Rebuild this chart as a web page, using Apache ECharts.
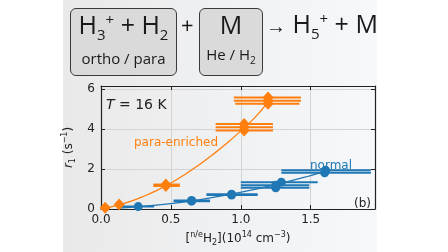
<!DOCTYPE html>
<html>
<head>
<meta charset="utf-8">
<script src="https://cdn.jsdelivr.net/npm/echarts@6.0.0/dist/echarts.min.js"></script>
<style>
  html, body { margin: 0; padding: 0; background: #fff; }
  #wrap { position: relative; width: 448px; height: 252px; overflow: hidden; }
  #chart { position: absolute; left: 0; top: 0; width: 448px; height: 252px; }
  .hdr { position: absolute; font-family: "Open Sans", sans-serif; color: #1a1a1a; white-space: nowrap; }
  .box { position: absolute; box-sizing: border-box; border: 1px solid #3a3a3a; border-radius: 6px;
         background: #dadada; text-align: center; font-family: "Open Sans", sans-serif; color: #1a1a1a; }
  .big { font-size: 25px; line-height: 30px; margin-top: 0px; }
  .small { font-size: 15px; line-height: 20px; margin-top: 5px; }
  .lo { font-size: 15px; position: relative; top: 6px; }
  .hi { font-size: 15px; position: relative; top: -9px; }
  .small .lo { font-size: 10px; top: 4px; }
</style>
</head>
<body>
<div id="wrap">
  <div id="chart"></div>
  <div class="box" style="left:70px;top:8px;width:107px;height:68px">
    <div class="big">H<span class="lo">3</span><span class="hi">+</span> + H<span class="lo">2</span></div>
    <div class="small">ortho / para</div>
  </div>
  <div class="hdr" style="left:181px;top:9px;font-size:22px;line-height:30px">+</div>
  <div class="box" style="left:199px;top:8px;width:64px;height:68px">
    <div class="big">M</div>
    <div class="small">He / H<span class="lo">2</span></div>
  </div>
  <div class="hdr" style="left:266px;top:8px;font-size:25px;line-height:30px"><span style="font-size:20px">→</span> H<span class="lo">5</span><span class="hi">+</span> + M</div>
</div>
<script>
// para-enriched measurements: [n(H2), r1, xerr low, xerr high]
const paraPoints = [
  [0.03, 0.06, 0.0, 0.06],
  [0.13, 0.22, 0.1, 0.16],
  [0.464, 1.15, 0.374, 0.564],
  [0.464, 1.22, 0.374, 0.564],
  [1.024, 3.92, 0.82, 1.23],
  [1.024, 4.08, 0.82, 1.23],
  [1.024, 4.24, 0.82, 1.23],
  [1.195, 5.26, 0.96, 1.42],
  [1.195, 5.4, 0.95, 1.43],
  [1.195, 5.56, 0.95, 1.43]
]
// normal H2 measurements
const normalPoints = [
  [0.266, 0.12, 0.15, 0.38],
  [0.648, 0.39, 0.52, 0.78],
  [0.648, 0.43, 0.52, 0.78],
  [0.934, 0.7, 0.755, 1.12],
  [0.934, 0.74, 0.755, 1.12],
  [1.25, 1.06, 1.0, 1.49],
  [1.25, 1.19, 1.0, 1.49],
  [1.29, 1.34, 1.0, 1.55],
  [1.6, 1.81, 1.29, 1.93],
  [1.607, 1.93, 1.29, 1.93]
]
// fit curves
const paraFit = [
  [0, 0], [0.1, 0.16], [0.2, 0.36], [0.3, 0.62], [0.4, 0.93], [0.5, 1.3], [0.6, 1.72],
  [0.7, 2.2], [0.8, 2.72], [0.9, 3.28], [1.0, 3.9], [1.1, 4.56], [1.19, 5.3]
]
const normalFit = [
  [0.12, 0.04], [0.3, 0.13], [0.5, 0.27], [0.7, 0.46], [0.9, 0.7], [1.1, 0.98],
  [1.3, 1.3], [1.5, 1.67], [1.607, 1.89]
]
const xTicks = [0, 0.5, 1.0, 1.5]
const yTicks = [0, 2, 4, 6]

const ORANGE = '#ff7f0e'
const BLUE = '#1f77b4'
const INK = '#222'
const fontFamily = 'DejaVu Sans'

const chart = echarts.init(document.getElementById('chart'), null, { renderer: 'canvas' })

const errorBars = (data, color) => ({
  type: 'custom',
  data,
  encode: { x: [0, 2, 3], y: 1 },
  z: 3,
  silent: true,
  renderItem: (params, api) => {
    const y = api.value(1)
    const p1 = api.coord([api.value(2), y])
    const p2 = api.coord([api.value(3), y])
    return {
      type: 'line',
      shape: { x1: p1[0], y1: p1[1], x2: p2[0], y2: p2[1] },
      style: { stroke: color, lineWidth: 2 },
    }
  },
})

const frameAxis = {
  axisLine: { show: true, onZero: false, lineStyle: { color: INK, width: 1.2 } },
  axisTick: { show: true, inside: true, length: 4, lineStyle: { color: INK, width: 1 } },
}

const options = {
  animation: false,
  backgroundColor: 'transparent',
  textStyle: { fontFamily },
  graphic: [
    {
      type: 'rect',
      z: -10,
      silent: true,
      shape: { x: 63, y: 0, width: 314, height: 252 },
      style: {
        fill: new echarts.graphic.LinearGradient(0, 0, 1, 0, [
          { offset: 0, color: '#e9e9e9' },
          { offset: 1, color: '#f6f8fb' },
        ]),
      },
    },
    {
      type: 'text', left: 106, top: 98, z: 10,
      style: {
        text: '{i|T} = 16 K',
        font: '14px DejaVu Sans', fill: INK,
        rich: { i: { fontStyle: 'italic', fontSize: 14, fontFamily } },
      },
    },
    {
      type: 'text', left: 134, top: 137, z: 10,
      style: { text: 'para-enriched', font: '12px DejaVu Sans', fill: ORANGE },
    },
    {
      type: 'text', left: 310, top: 160, z: 10,
      style: { text: 'normal', font: '12px DejaVu Sans', fill: BLUE },
    },
    {
      type: 'text', left: 354, top: 198, z: 10,
      style: { text: '(b)', font: '12px DejaVu Sans', fill: INK },
    },
  ],
  grid: { left: 101, right: 73, top: 86, bottom: 35 },
  xAxis: [
    {
      type: 'value', min: 0, max: 1.96, interval: 0.5,
      ...frameAxis,
      axisLabel: {
        color: INK, fontSize: 12, margin: 5, showMaxLabel: false, fontFamily,
        formatter: (v) => (xTicks.includes(v) ? v.toFixed(1) : ''),
      },
      splitLine: { show: true, lineStyle: { color: '#d4d4d4', width: 1 } },
      name: '[{sup|n/e}H{sub|2}](10{sup|14} cm{sup|−3})',
      nameLocation: 'middle',
      nameGap: 22,
      nameTextStyle: {
        color: INK, fontSize: 12, lineHeight: 16, fontFamily,
        rich: {
          sup: { fontSize: 8, lineHeight: 9, verticalAlign: 'top', fontFamily, color: INK },
          sub: { fontSize: 8, lineHeight: 9, verticalAlign: 'bottom', fontFamily, color: INK },
        },
      },
    },
    {
      type: 'value', min: 0, max: 1.96, interval: 0.5, position: 'top',
      ...frameAxis,
      axisLabel: { show: false },
      splitLine: { show: false },
    },
  ],
  yAxis: [
    {
      type: 'value', min: 0, max: 6.14, interval: 2,
      ...frameAxis,
      axisLabel: {
        color: INK, fontSize: 12, margin: 6, showMaxLabel: false, fontFamily,
        formatter: (v) => (yTicks.includes(v) ? String(v) : ''),
      },
      splitLine: { show: true, lineStyle: { color: '#d4d4d4', width: 1 } },
      name: '{i|r}{sub|1} (s{sup|−1})',
      nameLocation: 'middle',
      nameRotate: 90,
      nameGap: 19,
      nameTextStyle: {
        color: INK, fontSize: 12, lineHeight: 16, fontFamily,
        rich: {
          i: { fontStyle: 'italic', fontSize: 12, lineHeight: 16, fontFamily, color: INK },
          sup: { fontSize: 8, lineHeight: 9, verticalAlign: 'top', fontFamily, color: INK },
          sub: { fontSize: 8, lineHeight: 9, verticalAlign: 'bottom', fontFamily, color: INK },
        },
      },
    },
    {
      type: 'value', min: 0, max: 6.14, interval: 2, position: 'right',
      ...frameAxis,
      axisLabel: { show: false },
      splitLine: { show: false },
    },
  ],
  series: [
    {
      type: 'line', data: paraFit, smooth: true, showSymbol: false, z: 2, silent: true,
      lineStyle: { color: ORANGE, width: 1.3 },
    },
    {
      type: 'line', data: normalFit, smooth: true, showSymbol: false, z: 2, silent: true,
      lineStyle: { color: BLUE, width: 1.3 },
    },
    errorBars(paraPoints, ORANGE),
    errorBars(normalPoints, BLUE),
    {
      type: 'scatter', data: paraPoints.map((p) => [p[0], p[1]]), z: 4, silent: true,
      symbol: 'diamond', symbolSize: [11, 12], itemStyle: { color: ORANGE, opacity: 1 },
    },
    {
      type: 'scatter', data: normalPoints.map((p) => [p[0], p[1]]), z: 4, silent: true,
      symbol: 'circle', symbolSize: 9, itemStyle: { color: BLUE, opacity: 1 },
    },
  ],
}

chart.setOption(options)
</script>
</body>
</html>
